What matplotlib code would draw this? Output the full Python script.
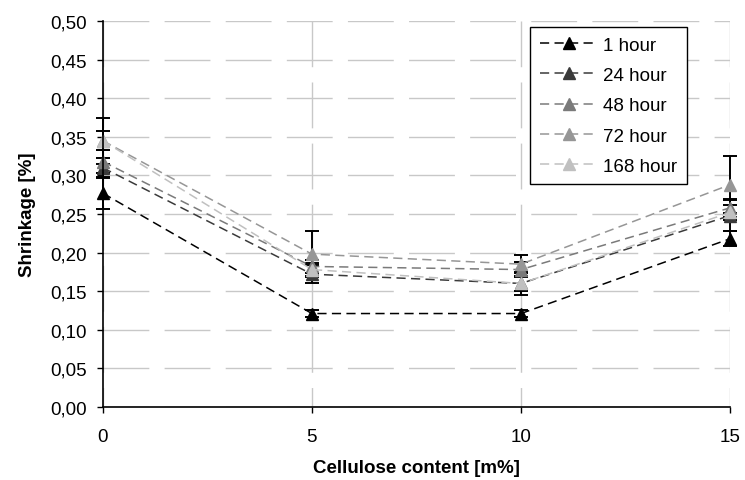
import matplotlib
matplotlib.use("Agg")
import matplotlib.pyplot as plt
from matplotlib.ticker import FuncFormatter

plt.rcParams["font.family"] = ["Liberation Sans", "DejaVu Sans"]

# ── Data ──────────────────────────────────────────────────
cellulose = [0, 5, 10, 15]
labels = ["1 hour", "24 hour", "48 hour", "72 hour", "168 hour"]
h1   = [0.277, 0.121, 0.121, 0.218]
h24  = [0.310, 0.172, 0.160, 0.248]
h48  = [0.318, 0.182, 0.178, 0.258]
h72  = [0.345, 0.198, 0.185, 0.288]
h168 = [0.345, 0.178, 0.160, 0.252]
err1   = [0.020, 0.005, 0.005, 0.010]
err24  = [0.012, 0.012, 0.015, 0.020]
err48  = [0.015, 0.008, 0.010, 0.012]
err72  = [0.030, 0.030, 0.012, 0.037]
err168 = [0.012, 0.008, 0.010, 0.010]

series = [h1, h24, h48, h72, h168]
errors = [err1, err24, err48, err72, err168]
colors = ["#000000", "#3a3a3a", "#7a7a7a", "#969696", "#c0c0c0"]

fig = plt.figure(figsize=(7.45, 4.81), dpi=100)
ax = fig.add_axes([0.138, 0.152, 0.842, 0.802])

for y, e in zip(series, errors):
    ax.errorbar(cellulose, y, yerr=e, fmt="none", ecolor="black",
                elinewidth=1.4, capsize=4.7, capthick=1.4, zorder=3, clip_on=False)
for y, c, lab in zip(series, colors, labels):
    ax.plot(cellulose, y, color=c, linestyle=(0, (6, 3.5)), linewidth=1.1,
            marker="^", markersize=8, markerfacecolor=c, markeredgecolor=c,
            label=lab, zorder=4, clip_on=False)

ax.set_xlim(0, 15)
ax.set_ylim(0, 0.5)
ax.set_xticks([0, 5, 10, 15])
ax.set_yticks([i * 0.05 for i in range(11)])
ax.yaxis.set_major_formatter(FuncFormatter(lambda v, p: f"{v:.2f}".replace(".", ",")))
ax.tick_params(direction="out", length=4.5, width=1, labelsize=13.5)
ax.tick_params(axis="y", pad=7)
ax.tick_params(axis="x", pad=11)
ax.yaxis.grid(True, color="#c8c8c8", linestyle=(0, (33, 11)), linewidth=1)
ax.xaxis.grid(True, color="#c8c8c8", linestyle=(19, (33, 11)), linewidth=1)
ax.set_axisbelow(True)
for s in ["top", "right"]:
    ax.spines[s].set_visible(False)
for s in ["left", "bottom"]:
    ax.spines[s].set_linewidth(1.2)
    ax.spines[s].set_zorder(5)

ax.set_xlabel("Cellulose content [m%]", fontsize=13.5, fontweight="bold", labelpad=10)
ax.set_ylabel("Shrinkage [%]", fontsize=13.5, fontweight="bold", labelpad=10)

leg = ax.legend(loc="upper right", bbox_to_anchor=(0.931, 0.984), borderaxespad=0,
                fontsize=13.5, frameon=True, fancybox=False, edgecolor="black",
                framealpha=1, handlelength=3.1, handletextpad=0.3, numpoints=1,
                borderpad=0.5, labelspacing=0.7)
leg.get_frame().set_linewidth(1)

plt.savefig("out.png", dpi=100)
plt.close()
